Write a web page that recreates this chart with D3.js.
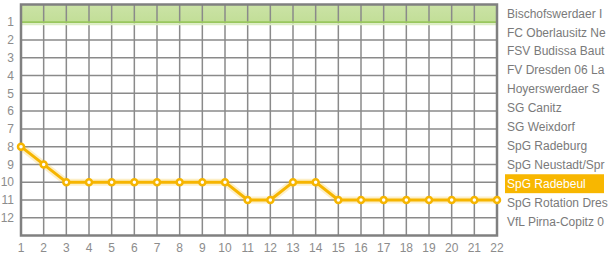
<!DOCTYPE html>
<html>
<head>
<meta charset="utf-8">
<script src="https://cdn.jsdelivr.net/npm/d3@7"></script>
<style>
  body { margin: 0; background: #fff; overflow: hidden; }
  svg text { font-family: "Liberation Sans", Arial, sans-serif; font-size: 12px; }
</style>
</head>
<body>
<div id="chart"></div>
<script>
// matchdays and table positions of SpG Radebeul
const rounds = d3.range(1, 23);
const positions = [8, 9, 10, 10, 10, 10, 10, 10, 10, 10, 11, 11, 10, 10, 11, 11, 11, 11, 11, 11, 11, 11];
const ranks = d3.range(1, 13);
// team names as far as the picture shows them (cut at the right edge)
const teams = [
    "Bischofswerdaer I",
    "FC Oberlausitz Ne",
    "FSV Budissa Baut",
    "FV Dresden 06 La",
    "Hoyerswerdaer S",
    "SG Canitz",
    "SG Weixdorf",
    "SpG Radeburg",
    "SpG Neustadt/Spr",
    "SpG Radebeul",
    "SpG Rotation Dres",
    "VfL Pirna-Copitz 0"
];
const highlightTeam = "SpG Radebeul";

const width = 608, height = 257;
const plot = {left: 21, right: 497, top: 4.5, bottom: 235.5};

const svg = d3.select("#chart").append("svg")
    .attr("width", width)
    .attr("height", height);

const xScale = d3.scaleLinear()
    .domain([1, 22])
    .range([plot.left, plot.right]);

const yScale = d3.scaleLinear()
    .domain([0, 13])
    .range([plot.top, plot.bottom]);

// green band above first place
const grad = svg.append("defs").append("linearGradient")
    .attr("id", "greenBand")
    .attr("x1", 0).attr("y1", 0).attr("x2", 0).attr("y2", 1);
grad.append("stop").attr("offset", "0%").attr("stop-color", "#cbe3a6");
grad.append("stop").attr("offset", "100%").attr("stop-color", "#c2de97");

svg.append("rect")
    .attr("x", plot.left)
    .attr("y", yScale(0))
    .attr("width", plot.right - plot.left)
    .attr("height", yScale(1) - yScale(0))
    .attr("fill", "url(#greenBand)");

// grid lines
svg.append("g")
    .selectAll("line")
    .data(rounds)
    .enter()
    .append("line")
    .attr("x1", d => xScale(d))
    .attr("x2", d => xScale(d))
    .attr("y1", plot.top)
    .attr("y2", plot.bottom)
    .attr("stroke", "#8a8a8a")
    .attr("stroke-width", 1.5);

svg.append("g")
    .selectAll("line")
    .data(ranks)
    .enter()
    .append("line")
    .attr("x1", plot.left)
    .attr("x2", plot.right)
    .attr("y1", d => yScale(d))
    .attr("y2", d => yScale(d))
    .attr("stroke", d => d === 1 ? "#99c75e" : "#8a8a8a")
    .attr("stroke-width", d => d === 1 ? 2 : 1.5);

// soft glow under first place
svg.append("line")
    .attr("x1", plot.left)
    .attr("x2", plot.right)
    .attr("y1", yScale(1) + 2)
    .attr("y2", yScale(1) + 2)
    .attr("stroke", "#dcedc4")
    .attr("stroke-width", 2);

// frame
svg.append("rect")
    .attr("x", plot.left)
    .attr("y", plot.top)
    .attr("width", plot.right - plot.left)
    .attr("height", plot.bottom - plot.top)
    .attr("fill", "none")
    .attr("stroke", "#808080")
    .attr("stroke-width", 2.5);

// axis labels
svg.append("g")
    .selectAll("text")
    .data(ranks)
    .enter()
    .append("text")
    .attr("x", 14)
    .attr("y", d => yScale(d))
    .attr("dy", "0.35em")
    .attr("text-anchor", "end")
    .attr("fill", "#8c8c8c")
    .text(d => d);

svg.append("g")
    .selectAll("text")
    .data(rounds)
    .enter()
    .append("text")
    .attr("x", d => xScale(d))
    .attr("y", 247.5)
    .attr("dy", "0.35em")
    .attr("text-anchor", "middle")
    .attr("fill", "#8c8c8c")
    .text(d => d);

// team list on the right
const teamScale = d3.scaleBand()
    .domain(teams)
    .range([4, 231]);

svg.append("rect")
    .attr("x", 505)
    .attr("y", teamScale(highlightTeam))
    .attr("width", 99)
    .attr("height", teamScale.bandwidth())
    .attr("fill", "#f8b700");

svg.append("g")
    .selectAll("text")
    .data(teams)
    .enter()
    .append("text")
    .attr("x", 507)
    .attr("y", d => teamScale(d) + teamScale.bandwidth() / 2)
    .attr("dy", "0.35em")
    .attr("fill", d => d === highlightTeam ? "#ffffff" : "#7a7a7a")
    .text(d => d);

// position line
const line = d3.line()
    .x((d, i) => xScale(rounds[i]))
    .y(d => yScale(d));

svg.append("path")
    .datum(positions)
    .attr("d", line)
    .attr("fill", "none")
    .attr("stroke", "#f8b700")
    .attr("stroke-opacity", 0.22)
    .attr("stroke-width", 7)
    .attr("stroke-linejoin", "round");

svg.append("path")
    .datum(positions)
    .attr("d", line)
    .attr("fill", "none")
    .attr("stroke", "#f6b500")
    .attr("stroke-width", 3)
    .attr("stroke-linejoin", "round");

svg.append("g")
    .selectAll("circle")
    .data(positions)
    .enter()
    .append("circle")
    .attr("cx", (d, i) => xScale(rounds[i]))
    .attr("cy", d => yScale(d))
    .attr("r", 3)
    .attr("fill", "#ffffff")
    .attr("stroke", "#f6b500")
    .attr("stroke-width", 2.5);
</script>
</body>
</html>
